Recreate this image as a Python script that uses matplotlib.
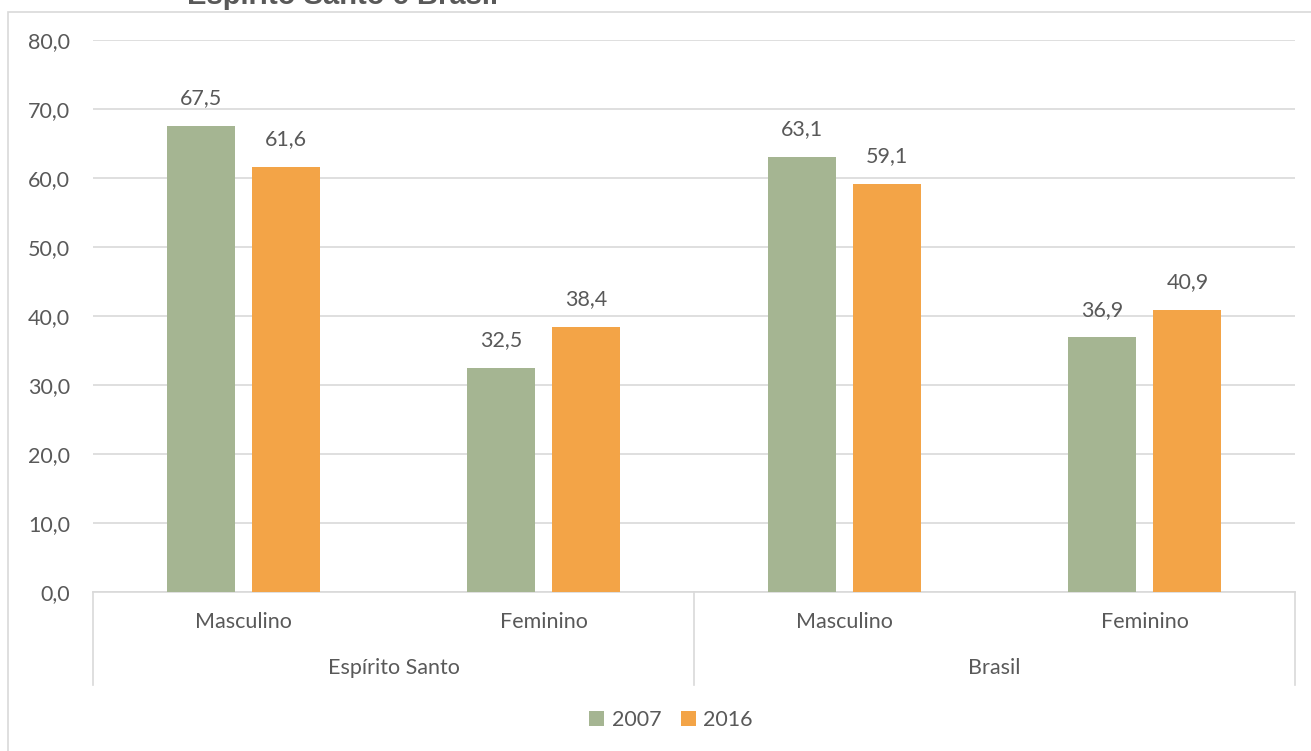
import matplotlib.pyplot as plt
import matplotlib.patches as patches
import numpy as np

# Shares by sex, Espírito Santo and Brasil
regions = ['Espírito Santo', 'Brasil']
sexes = ['Masculino', 'Feminino', 'Masculino', 'Feminino']
years = ['2007', '2016']
values_2007 = [67.5, 32.5, 63.1, 36.9]
values_2016 = [61.6, 38.4, 59.1, 40.9]
title = 'Espírito Santo e Brasil'

GREEN = '#a5b592'
ORANGE = '#f3a447'
TEXT = '#595959'
GRID = '#d9d9d9'
FS = 15.5

plt.rcParams['font.family'] = ['Lato', 'DejaVu Sans']

W, H = 1311, 751
fig = plt.figure(figsize=(W / 100, H / 100), dpi=100)

# chart border, partly off the canvas
fig.patches.append(patches.Rectangle((8 / W, -0.1), 1.2, 1 - 12 / H + 0.1,
                                     transform=fig.transFigure, fill=False,
                                     edgecolor=GRID, linewidth=1.2))
fig.text(343 / W, 1 - 4 / H, title, ha='center', va='baseline',
         fontsize=21, fontweight='bold', color=TEXT, family='Liberation Sans')

ax = fig.add_axes([93 / W, (H - 592) / H, (1295 - 93) / W, (592 - 40) / H])

x = np.arange(len(sexes))
width = 0.226
off = 0.142
b1 = ax.bar(x - off, values_2007, width, color=GREEN, label=years[0], zorder=3)
b2 = ax.bar(x + off, values_2016, width, color=ORANGE, label=years[1], zorder=3)

for bars, vals in ((b1, values_2007), (b2, values_2016)):
    for rect, v in zip(bars, vals):
        ax.annotate(f'{v:.1f}'.replace('.', ','),
                    (rect.get_x() + rect.get_width() / 2, v),
                    xytext=(0, 20), textcoords='offset points',
                    ha='center', va='center', fontsize=FS, color=TEXT)

ax.set_xlim(-0.5, len(sexes) - 0.5)
ax.set_ylim(0, 80)
ax.set_yticks(np.arange(0, 81, 10))
ax.set_yticklabels([f'{t:.1f}'.replace('.', ',') for t in np.arange(0, 81, 10)])
ax.tick_params(axis='y', length=0, pad=16.5, labelsize=FS, labelcolor=TEXT)
ax.set_xticks([])
ax.grid(axis='y', color=GRID, linewidth=1.2, zorder=0)
for s in ('top', 'right', 'left'):
    ax.spines[s].set_visible(False)
ax.spines['bottom'].set_color(GRID)
ax.spines['bottom'].set_linewidth(1.2)

# two-level category axis
tr = ax.get_xaxis_transform()
for xi, name in zip(x, sexes):
    ax.text(xi, -0.054, name, transform=tr, ha='center', va='center',
            fontsize=FS, color=TEXT)
for i, name in enumerate(regions):
    ax.text(2 * i + 0.5, -0.138, name, transform=tr, ha='center', va='center',
            fontsize=FS, color=TEXT)
for xd in (-0.5, 1.5, 3.5):
    ax.plot([xd, xd], [0, -0.168], transform=tr, color=GRID, linewidth=1.2,
            clip_on=False)

fig.legend(handles=[b1, b2], labels=years, loc='center',
           bbox_to_anchor=(671 / W, 1 - 720 / H), ncol=2, frameon=False,
           fontsize=FS, labelcolor=TEXT, handlelength=0.7, handleheight=0.7,
           handletextpad=0.35, columnspacing=0.9)

fig.savefig('out.png', dpi=100)
